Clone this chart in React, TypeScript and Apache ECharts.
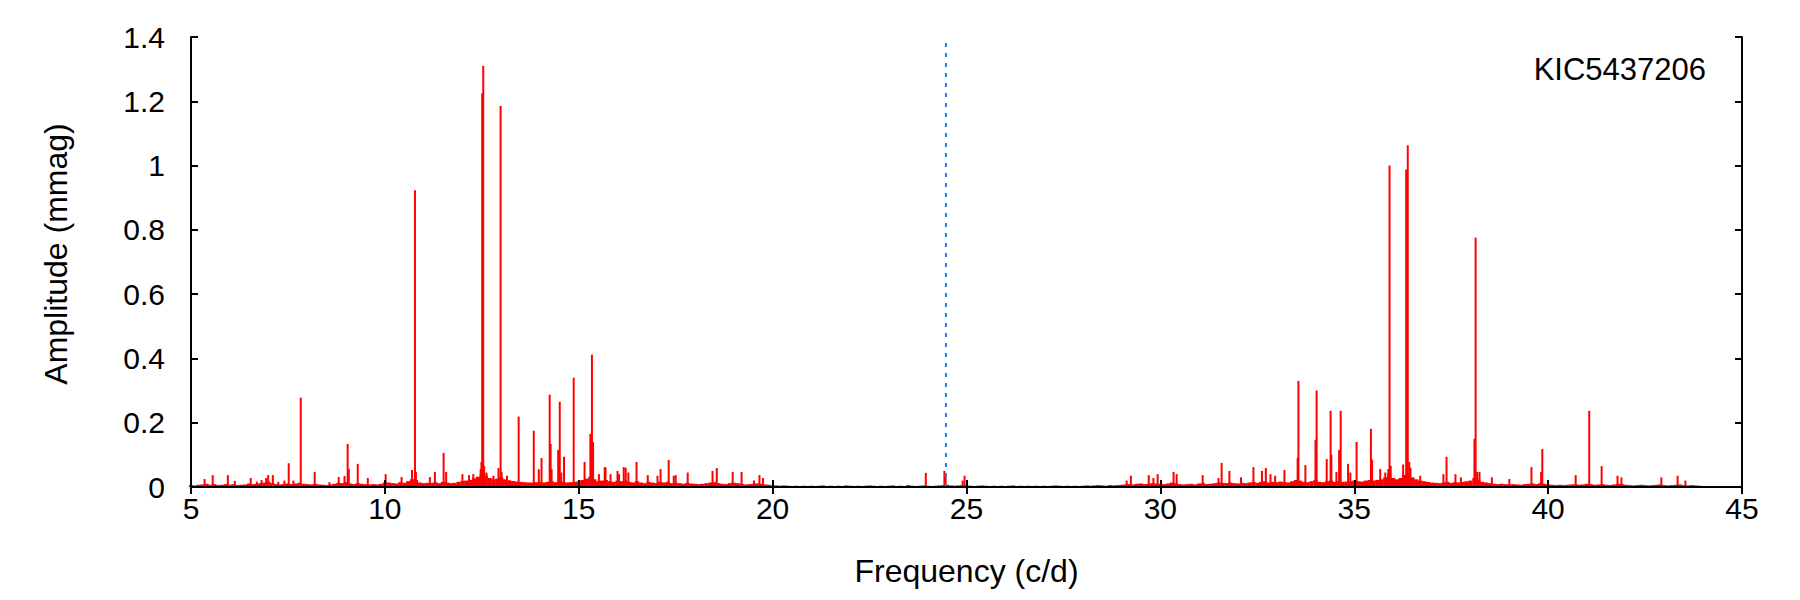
import React, { useEffect, useRef } from "react";
import * as echarts from "echarts";

// Frequency axis (c/d) and amplitude axis (mmag)
const xTicks = [5, 10, 15, 20, 25, 30, 35, 40, 45];
const yTicks = [0, 0.2, 0.4, 0.6, 0.8, 1, 1.2, 1.4];
const nyquist = 24.47;
const starName = "KIC5437206";
const xTitle = "Frequency (c/d)";
const yTitle = "Amplitude (mmag)";

// Noise floor, sampled every 0.1 c/d, in units of 0.001 mmag
const noiseStep = 0.1;
const noise05to10 = [
  6, 5, 7, 8, 10, 7, 9, 6, 7, 9,
  7, 9, 6, 7, 8, 11, 9, 9, 12, 14,
  16, 12, 9, 8, 10, 11, 9, 11, 13, 10,
  9, 8, 10, 8, 7, 6, 8, 10, 13, 12,
  15, 11, 9, 12, 10, 9, 8, 9, 8, 10,
];
const noise10to15 = [
  14, 14, 12, 11, 15, 13, 18, 24, 22, 14,
  12, 13, 13, 15, 12, 16, 14, 12, 13, 16,
  18, 20, 22, 27, 32, 42, 36, 28, 24, 26,
  30, 24, 21, 19, 17, 16, 15, 14, 14, 15,
  16, 14, 16, 18, 15, 20, 16, 14, 15, 16,
];
const noise15to20 = [
  18, 22, 26, 32, 24, 18, 20, 22, 18, 16,
  20, 18, 20, 16, 14, 18, 14, 12, 16, 14,
  12, 16, 14, 16, 12, 13, 12, 10, 13, 11,
  10, 9, 10, 12, 14, 15, 12, 10, 9, 12,
  13, 12, 10, 8, 9, 10, 11, 10, 8, 7,
];
const noise20to25 = [
  5, 5, 4, 5, 4, 3, 4, 3, 4, 3,
  4, 3, 4, 5, 3, 4, 3, 4, 3, 5,
  4, 3, 4, 3, 4, 5, 4, 3, 4, 3,
  4, 5, 3, 4, 3, 6, 4, 3, 4, 5,
  4, 3, 4, 5, 6, 7, 5, 4, 5, 6,
];
const noise25to30 = [
  5, 4, 3, 4, 5, 4, 3, 4, 3, 4,
  3, 4, 5, 3, 4, 3, 4, 3, 4, 3,
  4, 3, 4, 5, 4, 3, 4, 3, 4, 3,
  4, 5, 4, 5, 6, 5, 4, 6, 5, 6,
  7, 8, 9, 8, 10, 11, 9, 10, 12, 11,
];
const noise30to35 = [
  10, 9, 11, 14, 12, 9, 8, 9, 10, 8,
  11, 12, 9, 10, 12, 14, 13, 12, 14, 12,
  11, 13, 12, 14, 16, 13, 16, 18, 14, 16,
  15, 17, 15, 14, 18, 22, 20, 16, 15, 18,
  22, 16, 15, 18, 20, 16, 18, 16, 17, 18,
];
const noise35to40 = [
  20, 18, 17, 20, 22, 20, 22, 24, 30, 40,
  28, 24, 28, 38, 40, 30, 24, 20, 18, 16,
  14, 13, 12, 14, 16, 13, 15, 14, 16, 18,
  20, 28, 22, 16, 14, 12, 10, 9, 10, 9,
  8, 9, 8, 7, 9, 10, 11, 9, 12, 10,
];
const noise40to44 = [
  8, 7, 6, 7, 6, 7, 8, 9, 7, 8,
  10, 9, 7, 8, 9, 7, 6, 8, 10, 9,
  7, 6, 5, 6, 7, 6, 5, 6, 7, 8,
  6, 5, 6, 7, 8, 6, 5, 6, 5, 4,
];

// Individual peaks [frequency c/d, amplitude mmag]
const peaksLow = [
  [5.35, 0.025], [5.56, 0.037], [5.95, 0.037], [6.13, 0.019], [6.54, 0.028], [6.7, 0.016],
  [6.82, 0.022], [6.94, 0.028], [6.99, 0.037], [7.11, 0.037], [7.25, 0.016], [7.41, 0.02],
  [7.52, 0.074], [7.64, 0.02], [7.83, 0.278], [8.19, 0.047], [8.57, 0.015], [8.81, 0.031],
  [8.96, 0.034], [9.04, 0.134], [9.07, 0.056], [9.3, 0.072], [9.56, 0.028], [10.02, 0.04],
  [10.43, 0.031], [10.7, 0.053], [10.776, 0.923], [10.8, 0.047], [11.16, 0.031], [11.29, 0.047],
  [11.515, 0.106], [11.58, 0.047], [12.0, 0.04], [12.17, 0.037], [12.28, 0.04], [12.47, 0.056],
  [12.49, 0.078], [12.51, 1.225], [12.537, 1.31], [12.56, 0.065], [12.62, 0.045], [12.8, 0.035],
  [12.93, 0.059], [12.985, 1.185], [13.01, 0.047], [13.15, 0.035], [13.45, 0.219], [13.84, 0.175],
  [13.97, 0.055], [14.04, 0.09], [14.25, 0.287], [14.275, 0.134], [14.3, 0.056], [14.47, 0.115],
  [14.51, 0.265], [14.55, 0.045], [14.62, 0.094], [14.87, 0.34], [15.15, 0.078], [15.3, 0.165],
  [15.34, 0.412], [15.37, 0.14], [15.52, 0.04], [15.67, 0.062], [15.69, 0.06], [15.82, 0.04],
  [16.0, 0.05], [16.04, 0.04], [16.16, 0.062], [16.21, 0.06], [16.28, 0.045], [16.49, 0.078],
  [16.78, 0.037], [17.03, 0.035], [17.11, 0.056], [17.32, 0.084], [17.45, 0.035], [17.5, 0.037],
  [17.81, 0.045], [18.45, 0.05], [18.56, 0.059], [18.97, 0.047], [19.2, 0.047], [19.52, 0.02],
  [19.66, 0.037], [19.75, 0.028],
];
const peaksMid = [
  [23.95, 0.044], [24.43, 0.05], [24.46, 0.037], [24.9, 0.02], [24.95, 0.035],
];
const peaksHigh = [
  [29.13, 0.02], [29.24, 0.035], [29.7, 0.037], [29.82, 0.028], [29.93, 0.04], [30.34, 0.047],
  [30.42, 0.04], [31.09, 0.037], [31.5, 0.028], [31.58, 0.075], [31.78, 0.05], [32.08, 0.03],
  [32.4, 0.062], [32.62, 0.05], [32.72, 0.059], [32.84, 0.04], [32.96, 0.035], [33.2, 0.053],
  [33.54, 0.09], [33.56, 0.33], [33.74, 0.068], [34.0, 0.147], [34.03, 0.3], [34.29, 0.087],
  [34.39, 0.237], [34.41, 0.1], [34.54, 0.047], [34.61, 0.115], [34.65, 0.237], [34.84, 0.072],
  [34.9, 0.045], [35.06, 0.14], [35.43, 0.181], [35.46, 0.085], [35.67, 0.056], [35.8, 0.045],
  [35.88, 0.056], [35.91, 1.0], [35.94, 0.066], [36.26, 0.07], [36.34, 0.988], [36.38, 1.063],
  [36.42, 0.078], [36.45, 0.06], [36.7, 0.035], [37.3, 0.04], [37.38, 0.094], [37.61, 0.04],
  [37.75, 0.03], [38.1, 0.15], [38.13, 0.776], [38.17, 0.047], [38.23, 0.047], [38.55, 0.03],
  [39.0, 0.025], [39.57, 0.062], [39.82, 0.047], [39.85, 0.118], [40.71, 0.037], [41.06, 0.237],
  [41.38, 0.065], [41.79, 0.035], [41.89, 0.03], [42.92, 0.03], [43.34, 0.035], [43.54, 0.02],
];

const FONT = "'Liberation Sans', Arial, Helvetica, sans-serif";
const RED = "#ff0000";

export default function App() {
  const ref = useRef<HTMLDivElement | null>(null);

  useEffect(() => {
    document.body.style.margin = "0";
    if (!ref.current) return;
    const chart = echarts.init(ref.current, null, { renderer: "svg" });

    const noiseChunks = [
      { start: 5, vals: noise05to10 },
      { start: 10, vals: noise10to15 },
      { start: 15, vals: noise15to20 },
      { start: 20, vals: noise20to25 },
      { start: 25, vals: noise25to30 },
      { start: 30, vals: noise30to35 },
      { start: 35, vals: noise35to40 },
      { start: 40, vals: noise40to44 },
    ];
    const noiseData: number[][] = [];
    noiseChunks.forEach((c) => {
      c.vals.forEach((v, i) => {
        noiseData.push([+(c.start + i * noiseStep).toFixed(2), v / 1000]);
      });
    });
    const peakData = [...peaksLow, ...peaksMid, ...peaksHigh];

    const tickStyle = { show: true, inside: true, length: 7, lineStyle: { color: "#000", width: 2 } };
    const lineStyle = { show: true, lineStyle: { color: "#000", width: 2 } };

    chart.setOption({
      animation: false,
      backgroundColor: "#ffffff",
      grid: { left: 191, right: 58, top: 37, bottom: 113, containLabel: false },
      xAxis: [
        {
          type: "value",
          min: xTicks[0],
          max: xTicks[xTicks.length - 1],
          interval: 5,
          position: "bottom",
          z: 5,
          axisLine: lineStyle,
          axisTick: tickStyle,
          splitLine: { show: false },
          axisLabel: { color: "#000", fontSize: 30, fontFamily: FONT, margin: 6 },
          name: xTitle,
          nameLocation: "middle",
          nameGap: 68,
          nameTextStyle: { color: "#000", fontSize: 32, fontFamily: FONT },
        },
        {
          type: "value",
          min: xTicks[0],
          max: xTicks[xTicks.length - 1],
          interval: 5,
          position: "top",
          z: 5,
          axisLine: lineStyle,
          axisTick: tickStyle,
          splitLine: { show: false },
          axisLabel: { show: false },
        },
      ],
      yAxis: [
        {
          type: "value",
          min: yTicks[0],
          max: yTicks[yTicks.length - 1],
          interval: 0.2,
          position: "left",
          z: 5,
          axisLine: lineStyle,
          axisTick: tickStyle,
          splitLine: { show: false },
          axisLabel: { color: "#000", fontSize: 30, fontFamily: FONT, margin: 26 },
        },
        {
          type: "value",
          min: yTicks[0],
          max: yTicks[yTicks.length - 1],
          interval: 0.2,
          position: "right",
          z: 5,
          axisLine: lineStyle,
          axisTick: tickStyle,
          splitLine: { show: false },
          axisLabel: { show: false },
        },
      ],
      series: [
        {
          type: "custom",
          name: "noise",
          data: noiseData,
          z: 2,
          renderItem: (params: any, api: any) => {
            const x = api.value(0);
            const y = api.value(1);
            const base = api.coord([x, 0]);
            const top = api.coord([x, y]);
            const w = api.size([noiseStep, 0])[0] + 0.4;
            return {
              type: "rect",
              shape: { x: base[0] - w / 2, y: top[1], width: w, height: base[1] - top[1] },
              style: { fill: RED },
            };
          },
        },
        {
          type: "custom",
          name: "peaks",
          data: peakData,
          z: 3,
          renderItem: (params: any, api: any) => {
            const x = api.value(0);
            const y = api.value(1);
            const base = api.coord([x, 0]);
            const top = api.coord([x, y]);
            const w = 2;
            return {
              type: "rect",
              shape: { x: base[0] - w / 2, y: top[1], width: w, height: base[1] - top[1] },
              style: { fill: RED },
            };
          },
        },
        {
          type: "line",
          name: "Nyquist",
          data: [[nyquist, 0], [nyquist, 1.4]],
          symbol: "none",
          z: 4,
          lineStyle: { color: "#1a7ff0", width: 2, type: [4, 6] },
        },
      ],
      graphic: [
        {
          type: "text",
          right: 94,
          top: 54,
          style: { text: starName, fill: "#000", fontSize: 31, fontFamily: FONT },
        },
        {
          type: "text",
          x: 56,
          y: 254,
          rotation: Math.PI / 2,
          style: {
            text: yTitle,
            fill: "#000",
            fontSize: 32,
            fontFamily: FONT,
            align: "center",
            verticalAlign: "middle",
          },
        },
      ],
    });

    return () => chart.dispose();
  }, []);

  return <div ref={ref} style={{ width: 1800, height: 600 }} />;
}
